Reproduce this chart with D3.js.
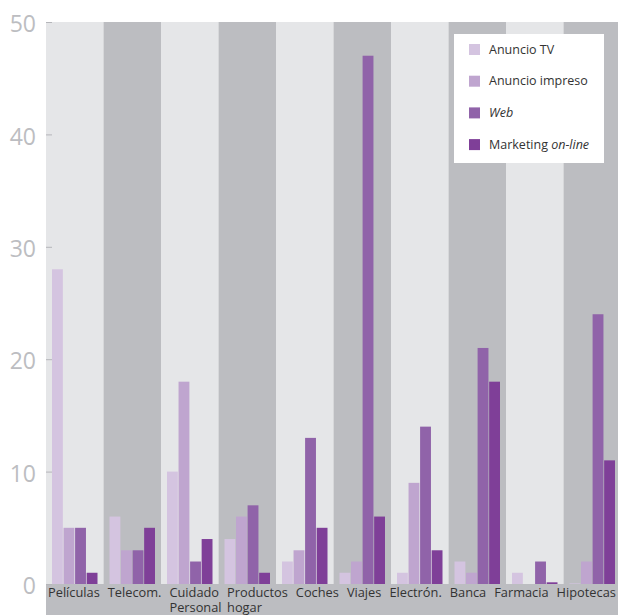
<!DOCTYPE html>
<html>
<head>
<meta charset="utf-8">
<script src="https://cdn.jsdelivr.net/npm/d3@7"></script>
<style>
  body { margin: 0; background: #fff; }
  svg { display: block; font-family: "Open Sans", sans-serif; }
</style>
</head>
<body>
<svg id="chart" width="618" height="615"></svg>
<script>
// categories, each one as its text lines
var categories = [
  ['Películas'], ['Telecom.'], ['Cuidado', 'Personal'], ['Productos', 'hogar'],
  ['Coches'], ['Viajes'], ['Electrón.'], ['Banca'], ['Farmacia'], ['Hipotecas']
];

// legend entries: parts of the label as [text, italic]
var seriesNames = [
  [['Anuncio TV', false]],
  [['Anuncio impreso', false]],
  [['Web', true]],
  [['Marketing ', false], ['on-line', true]]
];

var anuncioTV       = [28, 6, 10, 4, 2, 1, 1, 2, 1, 0.05];
var anuncioImpreso  = [5, 3, 18, 6, 3, 2, 9, 1, 0, 2];
var web             = [5, 3, 2, 7, 13, 47, 14, 21, 2, 24];
var marketingOnline = [1, 5, 4, 1, 5, 6, 3, 18, 0.15, 11];

var yTicks = [0, 10, 20, 30, 40, 50];

var seriesValues = [anuncioTV, anuncioImpreso, web, marketingOnline],
    colors = ['#d4c4e0', '#bfa5cf', '#9063a9', '#7f3f98'];

(function() {

  var svg = d3.select('#chart'),
      plotLeft = 46, plotRight = 621, plotTop = 22, plotBottom = 584;

  var x = d3.scaleBand()
        .domain(d3.range(categories.length))
        .range([plotLeft, plotRight]),

      xs = d3.scaleBand()
        .domain(d3.range(seriesValues.length))
        .range([6, x.bandwidth() - 6])
        .paddingInner(0.06),

      y = d3.scaleLinear()
        .domain([0, 50])
        .range([plotBottom, plotTop]);

  // label band at the bottom
  svg.append('rect')
    .attr('x', plotLeft).attr('y', plotBottom)
    .attr('width', 618 - plotLeft).attr('height', 615 - plotBottom)
    .attr('fill', '#bcbdc1');

  // alternating column stripes
  svg.append('g').selectAll('rect')
    .data(categories)
    .enter().append('rect')
      .attr('x', function(d, i) { return x(i); })
      .attr('y', plotTop)
      .attr('width', x.bandwidth())
      .attr('height', plotBottom - plotTop)
      .attr('fill', function(d, i) { return i % 2 ? '#bcbdc1' : '#e5e6e8'; });

  // bars
  var groups = svg.append('g').selectAll('g')
    .data(categories)
    .enter().append('g')
      .attr('transform', function(d, i) { return 'translate(' + x(i) + ',0)'; });

  groups.selectAll('rect')
    .data(function(d, i) {
      return seriesValues.map(function(vals, s) { return { s: s, v: vals[i] }; });
    })
    .enter().append('rect')
      .attr('x', function(d) { return xs(d.s); })
      .attr('y', function(d) { return y(d.v); })
      .attr('width', xs.bandwidth())
      .attr('height', function(d) { return y(0) - y(d.v); })
      .attr('fill', function(d) { return colors[d.s]; });

  // y axis: labels on the left, small dashes over the plot
  var yAxis = svg.append('g')
    .attr('transform', 'translate(' + plotLeft + ',0)')
    .call(d3.axisLeft(y).tickValues(yTicks).tickSizeInner(-6).tickSizeOuter(0).tickPadding(10));

  yAxis.select('.domain').remove();
  yAxis.selectAll('line').attr('stroke', '#b5b6ba');
  yAxis.selectAll('text')
    .attr('fill', '#bcbdc1')
    .attr('font-size', 23)
    .attr('font-family', '"Open Sans", sans-serif')
    .attr('dy', '0.42em');

  // x labels flow one after another, like one line of text
  var xLabels = svg.append('g')
        .attr('fill', '#333')
        .attr('font-size', 12.8),
      cursor = plotLeft + 2;

  categories.forEach(function(lines) {
    var w = 0;
    lines.forEach(function(line, k) {
      var t = xLabels.append('text')
        .attr('x', cursor)
        .attr('y', 597 + k * 15)
        .text(line);
      if (k === 0) w = t.node().getComputedTextLength();
    });
    cursor += w + 8;
  });

  // legend
  var legend = svg.append('g')
    .attr('transform', 'translate(454,34)');

  legend.append('rect')
    .attr('width', 150).attr('height', 129)
    .attr('fill', '#fff');

  var rows = legend.selectAll('.row')
    .data(seriesNames)
    .enter().append('g')
      .attr('class', 'row')
      .attr('transform', function(d, i) { return 'translate(15,' + (10 + i * 31.7) + ')'; });

  rows.append('rect')
    .attr('width', 11).attr('height', 11)
    .attr('fill', function(d, i) { return colors[i]; });

  rows.append('text')
    .attr('x', 20)
    .attr('y', 9.5)
    .attr('font-size', 12.5)
    .attr('fill', '#333')
    .selectAll('tspan')
    .data(function(d) { return d; })
    .enter().append('tspan')
      .attr('font-style', function(d) { return d[1] ? 'italic' : 'normal'; })
      .text(function(d) { return d[0]; });

})();
</script>
</body>
</html>
